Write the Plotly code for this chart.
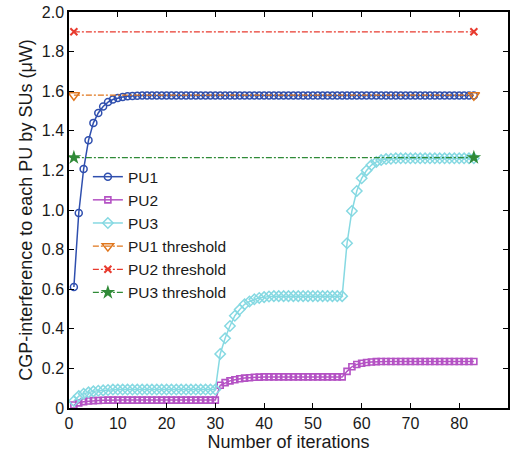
import plotly.graph_objects as go

# Iteration index
iterations = list(range(1, 84))

# CGP interference to PU1 (uW)
pu1_head = [0.611, 0.985, 1.207, 1.352, 1.440, 1.490, 1.523, 1.545, 1.558, 1.566,
            1.571, 1.574, 1.576, 1.577]
pu1 = pu1_head + [1.578] * (83 - len(pu1_head))

# CGP interference to PU2 (uW)
pu2_a = [0.015, 0.026, 0.032, 0.035, 0.037, 0.038, 0.039] + [0.040] * 23          # iters 1-30
pu2_b = [0.115, 0.128, 0.137, 0.143, 0.148, 0.151, 0.153, 0.155, 0.156] + [0.157] * 17  # iters 31-56
pu2_c = [0.185, 0.208, 0.220, 0.226, 0.230, 0.232, 0.234] + [0.235] * 20            # iters 57-83
pu2 = pu2_a + pu2_b + pu2_c

# CGP interference to PU3 (uW)
pu3_a = [0.035, 0.060, 0.072, 0.079, 0.084, 0.087, 0.089, 0.091] + [0.093] * 22
pu3_b = [0.273, 0.352, 0.414, 0.466, 0.497, 0.524, 0.538, 0.549, 0.556, 0.560, 0.563] + [0.565] * 15
pu3_c = [0.832, 0.995, 1.096, 1.160, 1.200, 1.227, 1.243, 1.252, 1.257, 1.259] + [1.261] * 17
pu3 = pu3_a + pu3_b + pu3_c

# Interference thresholds (uW)
thr_x = [1, 83]
pu1_thr = 1.58
pu2_thr = 1.90
pu3_thr = 1.265

y_ticks = [0, 0.2, 0.4, 0.6, 0.8, 1.0, 1.2, 1.4, 1.6, 1.8, 2.0]
y_labels = ["0", "0.2", "0.4", "0.6", "0.8", "1.0", "1.2", "1.4", "1.6", "1.8", "2.0"]
x_ticks = [0, 10, 20, 30, 40, 50, 60, 70, 80, 90]

c_pu1 = "#2f4fae"
c_pu2 = "#b452c4"
c_pu3 = "#86d9e2"
c_t1 = "#e0761c"
c_t2 = "#e83a2e"
c_t3 = "#2f8a37"

FONT = "Liberation Sans, Arial, sans-serif"
TXT = "#1a1a1a"

fig = go.Figure()

fig.add_trace(go.Scatter(
    x=iterations, y=pu1, name="PU1", mode="lines+markers",
    line=dict(color=c_pu1, width=1.5),
    marker=dict(symbol="circle-open", size=7, color=c_pu1, line=dict(width=1.5)),
))
fig.add_trace(go.Scatter(
    x=iterations, y=pu2, name="PU2", mode="lines+markers",
    line=dict(color=c_pu2, width=1.5),
    marker=dict(symbol="square-open", size=6, color=c_pu2, line=dict(width=1.6)),
))
fig.add_trace(go.Scatter(
    x=iterations, y=pu3, name="PU3", mode="lines+markers",
    line=dict(color=c_pu3, width=1.5),
    marker=dict(symbol="diamond-open", size=8, color=c_pu3, line=dict(width=1.5)),
))
fig.add_trace(go.Scatter(
    x=thr_x, y=[pu1_thr] * 2, name="PU1 threshold", mode="lines+markers",
    line=dict(color=c_t1, width=1.3, dash="6px,2px,2px,2px"),
    marker=dict(symbol="triangle-down-open", size=10, color=c_t1, line=dict(width=1.5)),
))
fig.add_trace(go.Scatter(
    x=thr_x, y=[pu2_thr] * 2, name="PU2 threshold", mode="lines+markers",
    line=dict(color=c_t2, width=1.3, dash="6px,2px,2px,2px"),
    marker=dict(symbol="x-thin-open", size=7, color=c_t2, line=dict(width=2, color=c_t2)),
))
fig.add_trace(go.Scatter(
    x=thr_x, y=[pu3_thr] * 2, name="PU3 threshold", mode="lines+markers",
    line=dict(color=c_t3, width=1.3, dash="6px,2px,2px,2px"),
    marker=dict(symbol="star", size=11, color=c_t3, line=dict(width=0)),
))

axis_common = dict(
    showline=True, linecolor="black", linewidth=1.5, mirror="ticks",
    ticks="inside", ticklen=5, tickwidth=1, tickcolor="black",
    showgrid=False, zeroline=False, automargin=False,
    tickfont=dict(family=FONT, size=16, color=TXT),
)

fig.update_layout(
    width=516, height=455,
    margin=dict(l=69, r=8, t=12, b=47),
    paper_bgcolor="white", plot_bgcolor="white",
    font=dict(family=FONT, size=16, color=TXT),
    showlegend=True,
    legend=dict(
        x=0.043, y=0.626, xanchor="left", yanchor="top",
        bgcolor="rgba(0,0,0,0)", borderwidth=0,
        font=dict(size=15.5, color=TXT),
        tracegroupgap=0, itemwidth=30,
    ),
    xaxis=dict(
        range=[0, 90], tickvals=x_ticks,
        title=dict(text="Number of iterations", standoff=1,
                   font=dict(size=18, color=TXT)),
        **axis_common,
    ),
    yaxis=dict(
        range=[0, 2.0], tickvals=y_ticks, ticktext=y_labels,
        title=dict(text="CGP-interference to each PU by SUs (μW)", standoff=4,
                   font=dict(size=18, color=TXT)),
        **axis_common,
    ),
)

fig.write_html("out.html")
